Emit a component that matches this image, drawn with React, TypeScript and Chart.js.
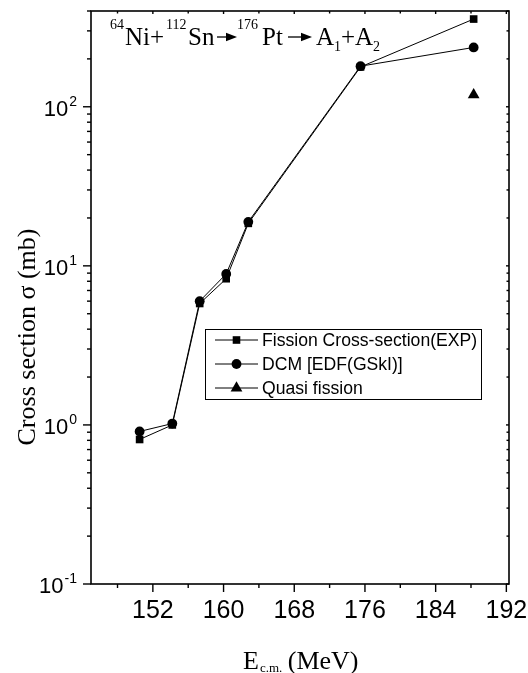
import React, { useEffect, useRef } from "react";
import { Chart, registerables } from "chart.js";

Chart.register(...registerables);

// ---- data ----
const energies = [150.5, 154.2, 157.3, 160.3, 162.8, 175.5, 188.3];
const expSigma = [0.81, 1.0, 5.8, 8.3, 18.5, 178, 356];
const dcmSigma = [0.91, 1.02, 6.0, 8.9, 18.9, 180, 236];
const quasiEnergy = [188.3];
const quasiSigma = [119];
const seriesLabels = ["Fission Cross-section(EXP)", "DCM [EDF(GSkI)]", "Quasi fission"];
const xTicks = [152, 160, 168, 176, 184, 192];
const xMinorTicks = [148, 156, 164, 172, 180, 188];
const yDecades = [-1, 0, 1, 2];
const X_MIN = 145;
const X_MAX = 192.3;
const Y_MIN = 0.1;
const Y_MAX = 400;

const SANS = '"Liberation Sans", Arial, sans-serif';
const SERIF = '"Liberation Serif", "Times New Roman", serif';

function drawMarker(ctx: CanvasRenderingContext2D, kind: string, x: number, y: number) {
  ctx.save();
  ctx.fillStyle = "#000";
  ctx.beginPath();
  if (kind === "rect") {
    const s = 3.8;
    ctx.rect(x - s, y - s, 2 * s, 2 * s);
  } else if (kind === "circle") {
    ctx.arc(x, y, 4.9, 0, Math.PI * 2);
  } else {
    const r = 6.8;
    ctx.moveTo(x, y - r);
    ctx.lineTo(x + r * 0.866, y + r * 0.5);
    ctx.lineTo(x - r * 0.866, y + r * 0.5);
    ctx.closePath();
  }
  ctx.fill();
  ctx.restore();
}

function drawArrow(ctx: CanvasRenderingContext2D, x0: number, x1: number, y: number, head: number) {
  ctx.save();
  ctx.strokeStyle = "#000";
  ctx.fillStyle = "#000";
  ctx.lineWidth = 1.3;
  ctx.beginPath();
  ctx.moveTo(x0, y);
  ctx.lineTo(x1 - head, y);
  ctx.stroke();
  ctx.beginPath();
  ctx.moveTo(x1, y);
  ctx.lineTo(x1 - head, y - head * 0.38);
  ctx.lineTo(x1 - head, y + head * 0.38);
  ctx.closePath();
  ctx.fill();
  ctx.restore();
}

const decorPlugin = {
  id: "decor",
  afterDraw(chart: any) {
    const { ctx, chartArea } = chart;
    const xs = chart.scales.x;
    const ys = chart.scales.y;
    const { left, right, top, bottom } = chartArea;
    ctx.save();
    ctx.strokeStyle = "#000";
    ctx.fillStyle = "#000";

    // frame
    ctx.lineWidth = 1.6;
    ctx.strokeRect(left, top, right - left, bottom - top);

    // x ticks
    ctx.lineWidth = 1.4;
    for (const v of xTicks) {
      const px = xs.getPixelForValue(v);
      ctx.beginPath();
      ctx.moveTo(px, bottom);
      ctx.lineTo(px, bottom + 8);
      ctx.stroke();
      ctx.beginPath();
      ctx.moveTo(px, top);
      ctx.lineTo(px, top + 3);
      ctx.stroke();
    }
    for (const v of xMinorTicks) {
      const px = xs.getPixelForValue(v);
      ctx.beginPath();
      ctx.moveTo(px, bottom);
      ctx.lineTo(px, bottom + 4);
      ctx.stroke();
      ctx.beginPath();
      ctx.moveTo(px, top);
      ctx.lineTo(px, top + 2.5);
      ctx.stroke();
    }
    ctx.font = `25px ${SANS}`;
    ctx.textAlign = "center";
    ctx.textBaseline = "middle";
    for (const v of xTicks) {
      ctx.fillText(String(v), xs.getPixelForValue(v), 611);
    }

    // y ticks
    for (const d of yDecades) {
      const py = ys.getPixelForValue(Math.pow(10, d));
      ctx.beginPath();
      ctx.moveTo(left - 8, py);
      ctx.lineTo(left, py);
      ctx.stroke();
      ctx.beginPath();
      ctx.moveTo(right - 3, py);
      ctx.lineTo(right, py);
      ctx.stroke();
      for (let m = 2; m <= 9; m++) {
        const val = m * Math.pow(10, d);
        if (val > Y_MAX) break;
        const pm = ys.getPixelForValue(val);
        ctx.beginPath();
        ctx.moveTo(left - 4, pm);
        ctx.lineTo(left, pm);
        ctx.stroke();
        ctx.beginPath();
        ctx.moveTo(right - 2.5, pm);
        ctx.lineTo(right, pm);
        ctx.stroke();
      }
      // label 10^d
      const sup = String(d);
      ctx.font = `14px ${SANS}`;
      const supW = ctx.measureText(sup).width;
      const rightEdge = 77;
      ctx.textAlign = "left";
      ctx.textBaseline = "alphabetic";
      ctx.fillText(sup, rightEdge - supW, py - 1);
      ctx.font = `22px ${SANS}`;
      ctx.textAlign = "right";
      ctx.fillText("10", rightEdge - supW - 1, py + 9);
    }

    // x title
    ctx.textAlign = "left";
    ctx.textBaseline = "alphabetic";
    ctx.font = `26px ${SERIF}`;
    ctx.fillText("E", 243, 669);
    const eW = ctx.measureText("E").width;
    ctx.font = `13px ${SERIF}`;
    ctx.fillText("c.m.", 243 + eW + 1, 672);
    const cmW = ctx.measureText("c.m.").width;
    ctx.font = `26px ${SERIF}`;
    ctx.fillText(" (MeV)", 243 + eW + cmW, 669);

    // y title
    ctx.save();
    ctx.translate(35, 337);
    ctx.rotate(-Math.PI / 2);
    ctx.font = `26px ${SERIF}`;
    ctx.textAlign = "center";
    ctx.fillText("Cross section \u03c3 (mb)", 0, 0);
    ctx.restore();

    // reaction annotation
    const base = 45;
    const put = (t: string, x: number, size: number, dy: number) => {
      ctx.font = `${size}px ${SERIF}`;
      ctx.textAlign = "left";
      ctx.fillText(t, x, base + dy);
    };
    put("64", 110, 14, -16);
    put("Ni+", 125, 25, 0);
    put("112", 166, 14, -16);
    put("Sn", 188, 25, 0);
    drawArrow(ctx, 217, 237, base - 8, 11);
    put("176", 237, 14, -16);
    put("Pt", 262, 25, 0);
    drawArrow(ctx, 288, 312, base - 8, 11);
    put("A", 316, 25, 0);
    put("1", 334, 14, 6);
    put("+A", 341, 25, 0);
    put("2", 373, 14, 6);

    // legend
    ctx.lineWidth = 1;
    ctx.strokeRect(205.5, 329.5, 276, 70);
    const kinds = ["rect", "circle", "triangle"];
    const rowsY = [340, 364, 388];
    ctx.font = `17.6px ${SANS}`;
    ctx.textBaseline = "middle";
    ctx.textAlign = "left";
    for (let i = 0; i < 3; i++) {
      const yy = rowsY[i];
      ctx.beginPath();
      ctx.moveTo(215, yy);
      ctx.lineTo(258, yy);
      ctx.stroke();
      drawMarker(ctx, kinds[i], 236.5, yy);
      ctx.fillText(seriesLabels[i], 262, yy + 1);
    }
    ctx.restore();
  },
};

export default function App() {
  const ref = useRef<HTMLCanvasElement | null>(null);
  useEffect(() => {
    if (!ref.current) return;
    const chart = new Chart(ref.current, {
      type: "line",
      data: {
        datasets: [
          {
            label: seriesLabels[0],
            data: energies.map((e, i) => ({ x: e, y: expSigma[i] })),
            borderColor: "#000",
            backgroundColor: "#000",
            borderWidth: 1,
            pointStyle: "rect",
            pointRadius: 5.4,
            pointBorderWidth: 0,
            order: 1,
          },
          {
            label: seriesLabels[1],
            data: energies.map((e, i) => ({ x: e, y: dcmSigma[i] })),
            borderColor: "#000",
            backgroundColor: "#000",
            borderWidth: 1,
            pointStyle: "circle",
            pointRadius: 4.9,
            pointBorderWidth: 0,
            order: 0,
          },
          {
            label: seriesLabels[2],
            data: quasiEnergy.map((e, i) => ({ x: e, y: quasiSigma[i] })),
            borderColor: "#000",
            backgroundColor: "#000",
            borderWidth: 1,
            pointStyle: "triangle",
            pointRadius: 6.8,
            pointBorderWidth: 0,
            order: 0,
          },
        ],
      },
      options: {
        responsive: false,
        animation: false,
        events: [],
        layout: { padding: { top: 11, right: 19, left: 0, bottom: 0 } },
        plugins: { legend: { display: false }, tooltip: { enabled: false }, title: { display: false } },
        scales: {
          x: {
            type: "linear",
            min: X_MIN,
            max: X_MAX,
            grid: { display: false },
            border: { display: false },
            ticks: { display: false },
            afterFit: (s: any) => {
              s.height = 89;
            },
          },
          y: {
            type: "logarithmic",
            min: Y_MIN,
            max: Y_MAX,
            grid: { display: false },
            border: { display: false },
            ticks: { display: false },
            afterFit: (s: any) => {
              s.width = 91;
            },
          },
        },
      },
      plugins: [decorPlugin],
    });
    return () => chart.destroy();
  }, []);
  return (
    <div style={{ position: "absolute", left: 0, top: 0, width: 528, height: 673, background: "#fff" }}>
      <canvas ref={ref} width={528} height={673} style={{ display: "block" }} />
    </div>
  );
}
